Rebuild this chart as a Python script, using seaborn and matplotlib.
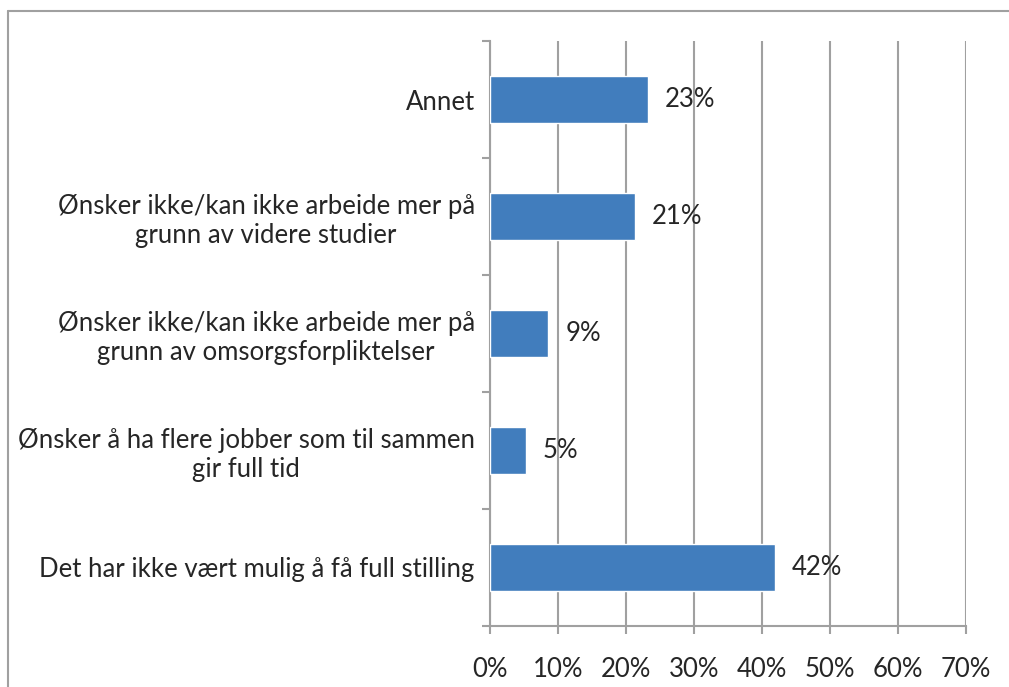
import matplotlib
matplotlib.use("Agg")
import matplotlib.pyplot as plt
import seaborn as sns
import pandas as pd
from matplotlib.ticker import FixedLocator, PercentFormatter
from matplotlib.lines import Line2D

# Data (top to bottom)
categories = [
    "Annet",
    "Ønsker ikke/kan ikke arbeide mer på\ngrunn av videre studier",
    "Ønsker ikke/kan ikke arbeide mer på\ngrunn av omsorgsforpliktelser",
    "Ønsker å ha flere jobber som til sammen\ngir full tid",
    "Det har ikke vært mulig å få full stilling",
]
shares = [23.3, 21.3, 8.6, 5.3, 41.9]
value_labels = ["23%", "21%", "9%", "5%", "42%"]
x_ticks = [0, 10, 20, 30, 40, 50, 60, 70]

df = pd.DataFrame({"category": categories, "share": shares})

sns.set_style("white")
plt.rcParams["font.family"] = ["Lato", "DejaVu Sans"]
fs = 18.5

fig = plt.figure(figsize=(10.09, 6.87), dpi=100)
ax = fig.add_axes([490 / 1009, 1 - 626 / 687, (966 - 490) / 1009, (626 - 41) / 687])

grey = "#A0A0A0"
sns.barplot(data=df, x="share", y="category", orient="h", color="#417DBD",
            width=0.4, saturation=1, ax=ax, zorder=3)

ax.set_xlim(0, 70)
ax.set_ylim(len(categories) - 0.5, -0.5)
ax.set_xticks(x_ticks)
ax.xaxis.set_major_formatter(PercentFormatter(decimals=0))
ax.set_xlabel("")
ax.set_ylabel("")

# vertical gridlines
ax.grid(axis="x", color=grey, linewidth=1.5, zorder=0)
ax.grid(axis="y", visible=False)

for side in ["top", "right"]:
    ax.spines[side].set_visible(False)
for side in ["left", "bottom"]:
    ax.spines[side].set_color(grey)
    ax.spines[side].set_linewidth(1.5)

ax.tick_params(axis="x", direction="out", length=6, width=1.5, color=grey,
               labelsize=fs, pad=16, bottom=True)
ax.tick_params(axis="y", which="major", length=0, labelsize=fs, pad=11)
ax.yaxis.set_minor_locator(FixedLocator([i - 0.5 for i in range(len(categories) + 1)]))
ax.tick_params(axis="y", which="minor", direction="out", length=6, width=1.5,
               color=grey, left=True)
for t in ax.get_yticklabels():
    t.set_multialignment("center")

# value labels
for i, (v, lab) in enumerate(zip(shares, value_labels)):
    ax.annotate(lab, xy=(v, i), xytext=(12, 0), textcoords="offset points",
                va="center", ha="left", fontsize=fs, zorder=4)

# chart frame (top and left edges visible)
fig.add_artist(Line2D([8 / 1009, 1.0], [1 - 11 / 687, 1 - 11 / 687],
                      transform=fig.transFigure, color=grey, linewidth=1.5))
fig.add_artist(Line2D([8 / 1009, 8 / 1009], [0.0, 1 - 11 / 687],
                      transform=fig.transFigure, color=grey, linewidth=1.5))

fig.savefig("out.png", dpi=100, facecolor="white")
